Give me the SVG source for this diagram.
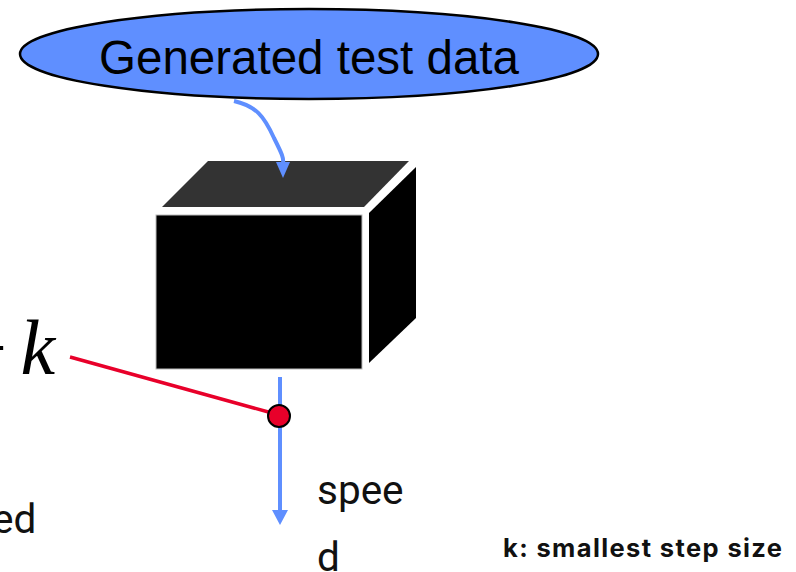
<svg xmlns="http://www.w3.org/2000/svg" width="796" height="572" viewBox="0 0 796 572">
  <style>
    .flow { fill: none; stroke: #5f8fff; stroke-width: 4; }
    .head { fill: #5f8fff; }
    .probe { fill: none; stroke: #e8002a; stroke-width: 3.5; }
    .label { font-family: Roboto, "Noto Sans", sans-serif; font-size: 40.5px; fill: #111; }
    .title { font-family: "Liberation Sans", Arial, sans-serif; font-size: 47.5px; fill: #000; }
    .math { font-family: "Liberation Serif", "Times New Roman", serif; font-style: italic; font-size: 78px; fill: #000; }
    .note { font-family: Inter, "Liberation Sans", sans-serif; font-weight: 700; font-size: 25.5px; fill: #111; }
  </style>
  <rect width="796" height="572" fill="#fff"/>

  <!-- data source -->
  <g id="test-data">
    <ellipse cx="309" cy="54" rx="289" ry="45" fill="#5f8fff" stroke="#000" stroke-width="2.5"/>
    <text class="title" x="309" y="74" text-anchor="middle">Generated test data</text>
  </g>

  <!-- system under test: black box -->
  <g id="black-box">
    <polygon points="208,161 409,161 364,207 162,207" fill="#333"/>
    <rect x="156" y="215" width="206" height="154" fill="#000" stroke="#bbb" stroke-width="1"/>
    <polygon points="369,213 416,167 416,318 369,363" fill="#000"/>
  </g>

  <g id="connectors">
    <path class="flow" d="M234,101 C256,106 264,116 274,138 C282,154 284,158 283,164"/>
    <path class="head" d="M276,162 L290,162 L283,178 Z"/>
    <path class="flow" d="M280,377 L280,512"/>
    <path class="head" d="M272,510 L288,510 L280,525 Z"/>
    <line class="probe" x1="70" y1="357" x2="272" y2="413"/>
  </g>

  <g id="probe-point">
    <circle cx="279" cy="416" r="11" fill="#e8002a" stroke="#000" stroke-width="2"/>
  </g>

  <g id="labels">
    <text class="math" x="-42" y="374">+ <tspan x="20.5">k</tspan></text>
    <text class="label" x="-8" y="533">ed</text>
    <text class="label" x="317" y="504">spee</text>
    <text class="label" x="317" y="571">d</text>
    <text class="note" x="503" y="557" textLength="279" lengthAdjust="spacing">k: smallest step size</text>
  </g>
</svg>
